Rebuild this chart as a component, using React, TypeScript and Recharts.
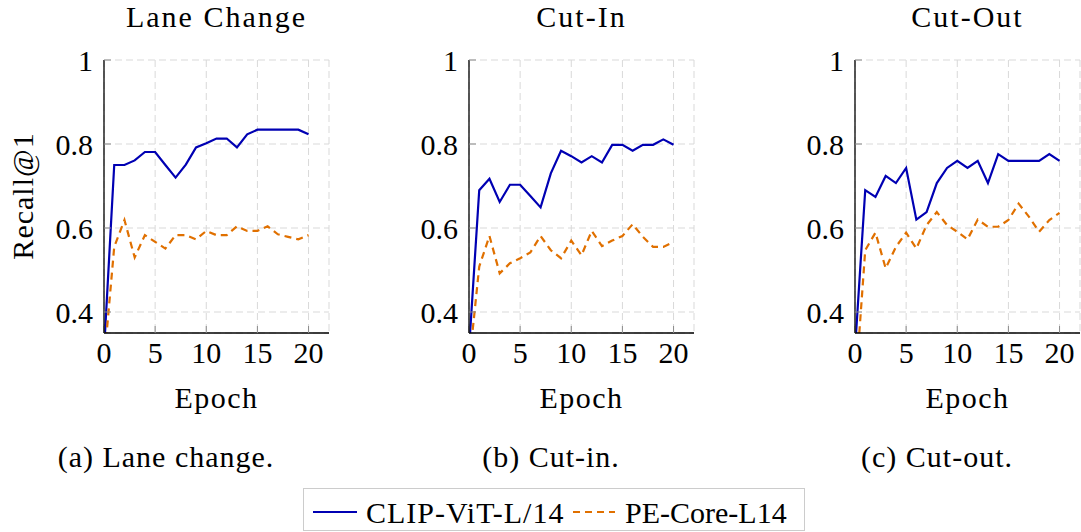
import { LineChart, Line, XAxis, YAxis, CartesianGrid } from "recharts";

// Recall@1 per training epoch for the three maneuver subsets, CLIP vs PE-Core.
const epochs = [0, 1, 2, 3, 4, 5, 6, 7, 8, 9, 10, 11, 12, 13, 14, 15, 16, 17, 18, 19, 20];

const clipLaneChange = [0.306, 0.75, 0.75, 0.761, 0.781, 0.781, 0.75, 0.72, 0.751, 0.792, 0.802, 0.813, 0.813, 0.792, 0.823, 0.834, 0.834, 0.834, 0.834, 0.834, 0.823];
const peLaneChange = [0.278, 0.555, 0.619, 0.53, 0.583, 0.567, 0.551, 0.583, 0.583, 0.573, 0.593, 0.583, 0.583, 0.604, 0.593, 0.593, 0.604, 0.585, 0.579, 0.573, 0.583];

const clipCutIn = [0.31, 0.69, 0.717, 0.662, 0.703, 0.703, 0.676, 0.649, 0.73, 0.784, 0.771, 0.756, 0.771, 0.756, 0.798, 0.798, 0.784, 0.798, 0.798, 0.811, 0.798];
const peCutIn = [0.272, 0.508, 0.581, 0.492, 0.516, 0.528, 0.542, 0.581, 0.547, 0.528, 0.57, 0.535, 0.593, 0.557, 0.57, 0.581, 0.609, 0.579, 0.555, 0.555, 0.567];

const clipCutOut = [0.31, 0.69, 0.674, 0.724, 0.707, 0.743, 0.62, 0.638, 0.707, 0.743, 0.76, 0.743, 0.76, 0.707, 0.776, 0.76, 0.76, 0.76, 0.76, 0.776, 0.76];
const peCutOut = [0.207, 0.547, 0.589, 0.504, 0.555, 0.589, 0.551, 0.607, 0.638, 0.607, 0.591, 0.573, 0.62, 0.603, 0.603, 0.619, 0.658, 0.627, 0.591, 0.619, 0.636];

const xTicks = [0, 5, 10, 15, 20];
const yTicks = [0.4, 0.6, 0.8, 1];

const FONT = "Liberation Serif, Times New Roman, DejaVu Serif, serif";
const BLUE = "#0000b3";
const ORANGE = "#e07000";
const TICK_GRAY = "#8c8c8c";

const PLOT_TOP = 60;
const PLOT_W = 225;
const PLOT_H = 273;
const AXIS_W = 60;
const AXIS_H = 50;
const PAD_TOP = 20;

const tickStyle = { fill: "#000", fontSize: 30, style: { fontFamily: FONT } };
const frame = { stroke: "#000", strokeWidth: 1.3 };

function Panel({ left, clip, pe }: { left: number; clip: number[]; pe: number[] }) {
  const rows = epochs.map((epoch, i) => ({ epoch, clip: clip[i], pe: pe[i] }));

  return (
    <div style={{ position: "absolute", left: left - AXIS_W, top: PLOT_TOP - PAD_TOP }}>
      <LineChart
        width={AXIS_W + PLOT_W + 1}
        height={PAD_TOP + PLOT_H + AXIS_H}
        data={rows}
        margin={{ top: PAD_TOP, right: 1, bottom: 0, left: 0 }}
        style={{ fontFamily: FONT }}
      >
        <CartesianGrid stroke="#d9d9d9" strokeDasharray="7 4" />
        <XAxis
          dataKey="epoch"
          type="number"
          domain={[0, 22]}
          ticks={xTicks}
          interval={0}
          height={AXIS_H}
          tickSize={-7}
          tickMargin={16}
          tick={tickStyle}
          tickLine={{ stroke: TICK_GRAY }}
          axisLine={frame}
        />
        <XAxis
          xAxisId="top"
          orientation="top"
          dataKey="epoch"
          type="number"
          domain={[0, 22]}
          ticks={xTicks}
          interval={0}
          height={0}
          tickSize={-7}
          tick={false}
          tickLine={{ stroke: TICK_GRAY }}
          axisLine={frame}
        />
        <YAxis
          type="number"
          domain={[0.35, 1]}
          ticks={yTicks}
          interval={0}
          allowDataOverflow
          width={AXIS_W}
          tickSize={-7}
          tickMargin={18}
          tick={tickStyle}
          tickFormatter={(v: number) => (v === 1 ? "1" : String(v))}
          tickLine={{ stroke: TICK_GRAY }}
          axisLine={frame}
        />
        <YAxis
          yAxisId="right"
          orientation="right"
          type="number"
          domain={[0.35, 1]}
          ticks={yTicks}
          interval={0}
          allowDataOverflow
          width={0}
          tickSize={-7}
          tick={false}
          tickLine={{ stroke: TICK_GRAY }}
          axisLine={frame}
        />
        <Line
          dataKey="clip"
          type="linear"
          stroke={BLUE}
          strokeWidth={2.2}
          dot={false}
          isAnimationActive={false}
        />
        <Line
          dataKey="pe"
          type="linear"
          stroke={ORANGE}
          strokeWidth={2.2}
          strokeDasharray="7 5"
          dot={false}
          isAnimationActive={false}
        />
      </LineChart>
    </div>
  );
}

const panels = [
  { left: 104, title: "Lane Change", caption: "(a) Lane change.", captionX: 166, clip: clipLaneChange, pe: peLaneChange },
  { left: 469, title: "Cut-In", caption: "(b) Cut-in.", captionX: 551, clip: clipCutIn, pe: peCutIn },
  { left: 855, title: "Cut-Out", caption: "(c) Cut-out.", captionX: 937, clip: clipCutOut, pe: peCutOut },
];

const textStyle = (spacing: number) => ({
  fontSize: 30,
  fill: "#000",
  style: { fontFamily: FONT, letterSpacing: spacing },
});

export default function App() {
  const text = textStyle(1);

  return (
    <div
      style={{
        position: "absolute",
        left: 0,
        top: 0,
        width: 1081,
        height: 532,
        background: "#fff",
        fontFamily: FONT,
      }}
    >
      {panels.map((p) => (
        <Panel key={p.title} left={p.left} clip={p.clip} pe={p.pe} />
      ))}

      <svg width={1081} height={532} style={{ position: "absolute", left: 0, top: 0, pointerEvents: "none" }}>
        {panels.map((p) => (
          <g key={p.title}>
            <text x={p.left + PLOT_W / 2} y={27} textAnchor="middle" {...textStyle(2)}>
              {p.title}
            </text>
            <text x={p.left + PLOT_W / 2} y={408} textAnchor="middle" {...textStyle(1.5)}>
              Epoch
            </text>
            <text x={p.captionX} y={467} textAnchor="middle" {...text}>
              {p.caption}
            </text>
          </g>
        ))}
        <text transform="translate(33 196) rotate(-90)" textAnchor="middle" {...text}>
          Recall@1
        </text>

        <rect x={303.5} y={488.5} width={501} height={42} fill="#fff" stroke="#cccccc" />
        <line x1={313} x2={357} y1={512} y2={512} stroke={BLUE} strokeWidth={2.2} />
        <text x={366} y={523} {...text}>
          CLIP-ViT-L/14
        </text>
        <line x1={573} x2={615} y1={512} y2={512} stroke={ORANGE} strokeWidth={2.2} strokeDasharray="7 5" />
        <text x={625} y={523} {...textStyle(0)}>
          PE-Core-L14
        </text>
      </svg>
    </div>
  );
}
